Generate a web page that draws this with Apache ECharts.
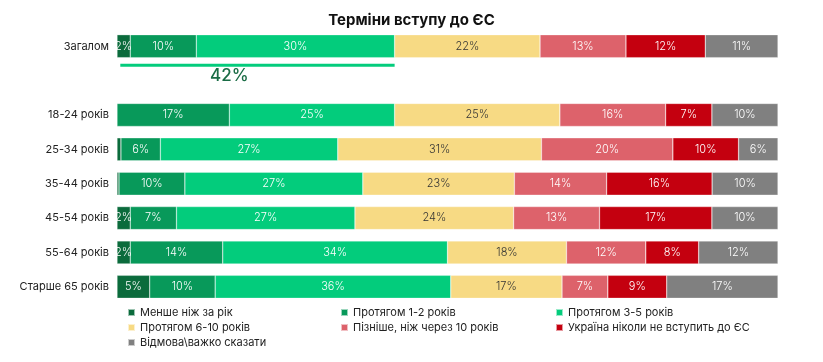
<!DOCTYPE html>
<html><head><meta charset="utf-8">
<script src="https://cdn.jsdelivr.net/npm/echarts@6/dist/echarts.min.js"></script>
<style>html,body{margin:0;padding:0;background:#fff}#c{width:823px;height:362px}</style>
</head><body><div id="c"></div>
<script>
const categories = ['Загалом', '', '18-24 років', '25-34 років', '35-44 років', '45-54 років', '55-64 років', 'Старше 65 років'];
const seriesNames = ['Менше ніж за рік', 'Протягом 1-2 років', 'Протягом 3-5 років', 'Протягом 6-10 років', 'Пізніше, ніж через 10 років', 'Україна ніколи не вступить до ЄС', 'Відмова\\важко сказати'];
const lessThanYear = [2, null, 0, 0.6, 0.3, 2, 2, 5];
const years1to2 = [10, null, 17, 6, 10, 7, 14, 10];
const years3to5 = [30, null, 25, 27, 27, 27, 34, 36];
const years6to10 = [22, null, 25, 31, 23, 24, 18, 17];
const laterThan10 = [13, null, 16, 20, 14, 13, 12, 7];
const never = [12, null, 7, 10, 16, 17, 8, 9];
const refuse = [11, null, 10, 6, 10, 10, 12, 17];
const totalSoonLabel = '42%';
const totalSoonValue = 42;

const colors = ['#0b6b3c', '#08995a', '#03cc7c', '#f7da84', '#dd626b', '#c4000f', '#808080'];
const labelColors = ['#fff', '#fff', '#fff', '#333', '#fff', '#fff', '#fff'];
const raw = [lessThanYear, years1to2, years3to5, years6to10, laterThan10, never, refuse];
const sums = categories.map((c, i) => raw.reduce((s, a) => s + (a[i] || 0), 0));
const FONT = 'Inter';

const series = raw.map((arr, k) => ({
  name: seriesNames[k],
  type: 'bar',
  stack: 'total',
  barWidth: 23,
  itemStyle: { color: colors[k], borderColor: 'rgba(255,255,255,0.6)', borderWidth: 0.5 },
  label: {
    show: true,
    color: labelColors[k],
    fontFamily: FONT,
    fontSize: 11,
    fontWeight: 300,
    formatter: p => (arr[p.dataIndex] == null || arr[p.dataIndex] < 1.5) ? '' : Math.round(arr[p.dataIndex]) + '%'
  },
  data: arr.map((v, i) => v == null ? null : v / sums[i] * 100)
}));

const legendText = { color: '#222', fontFamily: FONT, fontSize: 11 };
const mkLegend = (left, names) => ({
  left: left, top: 302, orient: 'vertical', itemWidth: 7, itemHeight: 7, itemGap: 4,
  icon: 'rect', textStyle: legendText, data: names, selectedMode: false
});

const chart = echarts.init(document.getElementById('c'));
chart.setOption({
  animation: false,
  title: { text: 'Терміни вступу до ЄС', left: 'center', top: 8,
    textStyle: { fontFamily: FONT, fontSize: 15, fontWeight: 'bold', color: '#111' } },
  grid: { left: 117, right: 45, top: 29, height: 275 },
  xAxis: { type: 'value', min: 0, max: 100, show: false },
  yAxis: { type: 'category', inverse: true, data: categories,
    axisLine: { show: false }, axisTick: { show: false },
    axisLabel: { color: '#222', fontFamily: FONT, fontSize: 11, margin: 8 } },
  legend: [
    mkLegend(122, [seriesNames[0], seriesNames[3], seriesNames[6]]),
    mkLegend(335, [seriesNames[1], seriesNames[4]]),
    mkLegend(550, [seriesNames[2], seriesNames[5]])
  ],
  series: series
});

const p0 = chart.convertToPixel({ gridIndex: 0 }, [0.5, 0]);
const p1 = chart.convertToPixel({ gridIndex: 0 }, [totalSoonValue, 0]);
const pt = chart.convertToPixel({ gridIndex: 0 }, [17, 0]);
chart.setOption({
  graphic: [
    { type: 'line', shape: { x1: p0[0], y1: p0[1] + 19, x2: p1[0], y2: p1[1] + 19 },
      style: { stroke: '#03cc7c', lineWidth: 3 } },
    { type: 'text', x: pt[0], y: pt[1] + 30, style: { text: totalSoonLabel, fill: '#1a6c45',
      font: '500 17px ' + FONT, textAlign: 'center', textVerticalAlign: 'middle' } }
  ]
});
</script></body></html>
